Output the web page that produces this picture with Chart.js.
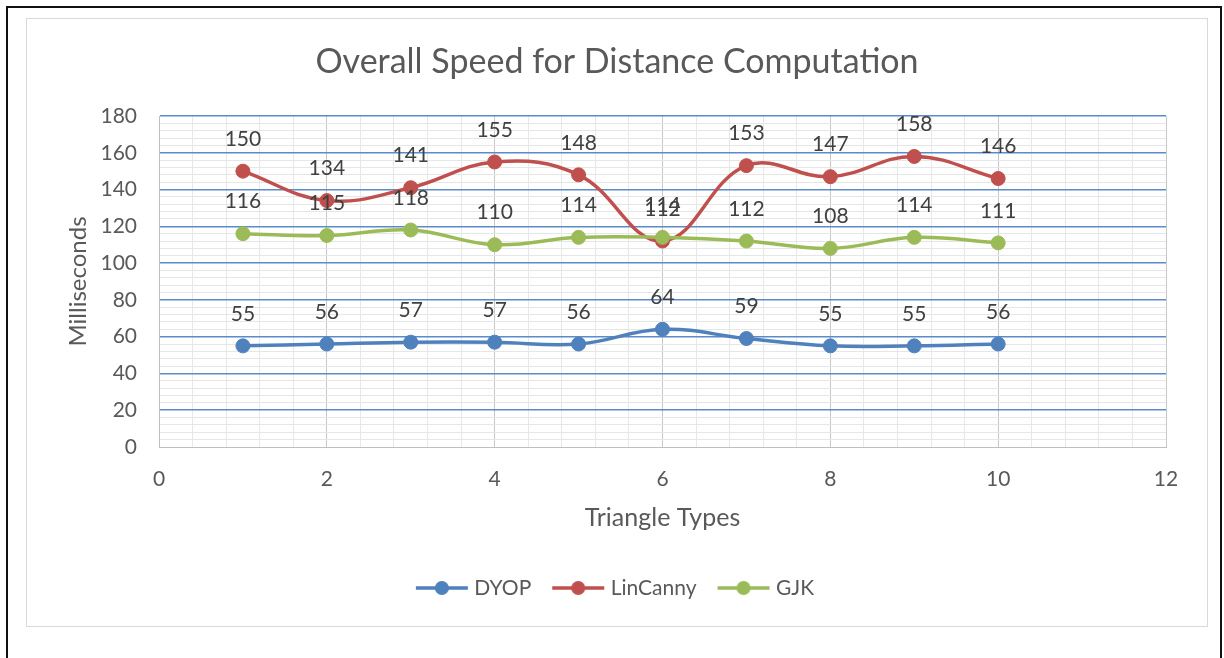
<!DOCTYPE html>
<html>
<head>
<meta charset="utf-8">
<script src="https://cdn.jsdelivr.net/npm/chart.js@4"></script>
<style>
  html, body { margin: 0; padding: 0; background: #fff; }
  #outer { position: absolute; left: 6px; top: 6px; width: 1212px; height: 700px;
           border: 2px solid #111; border-bottom: none; }
  #inner { position: absolute; left: 26px; top: 18px; width: 1180px; height: 607px;
           border: 1px solid #d9d9d9; }
  #wrap { position: absolute; left: 0; top: 0; width: 1224px; height: 658px; }
</style>
</head>
<body>
<div id="outer"></div>
<div id="inner"></div>
<div id="wrap"><canvas id="chart"></canvas></div>
<script>
// values
const triangleTypes = [1, 2, 3, 4, 5, 6, 7, 8, 9, 10];
const dyop = [55, 56, 57, 57, 56, 64, 59, 55, 55, 56];
const linCanny = [150, 134, 141, 155, 148, 112, 153, 147, 158, 146];
const gjk = [116, 115, 118, 110, 114, 114, 112, 108, 114, 111];

const FONT = 'Lato, "Open Sans", sans-serif';

function toPoints(vals) {
    return triangleTypes.map((x, i) => ({x: x, y: vals[i]}));
}

function isMultiple(v, step) {
    const r = v / step;
    return Math.abs(r - Math.round(r)) < 1e-6;
}

// little "line with dot" icon for the legend
function legendIcon(color) {
    const c = document.createElement('canvas');
    c.width = 54; c.height = 16;
    const g = c.getContext('2d');
    g.strokeStyle = color;
    g.lineWidth = 3.5;
    g.beginPath(); g.moveTo(1, 8); g.lineTo(53, 8); g.stroke();
    g.fillStyle = color;
    g.beginPath(); g.arc(27, 8, 7, 0, Math.PI * 2); g.fill();
    return c;
}

// write the value above each point
const valueLabels = {
    id: 'valueLabels',
    afterDatasetsDraw(chart) {
        const ctx = chart.ctx;
        ctx.save();
        ctx.font = '21px ' + FONT;
        ctx.fillStyle = '#404040';
        ctx.textAlign = 'center';
        ctx.textBaseline = 'middle';
        chart.data.datasets.forEach((ds, i) => {
            chart.getDatasetMeta(i).data.forEach((pt, j) => {
                ctx.fillText(ds.data[j].y, pt.x, pt.y - 32);
            });
        });
        ctx.restore();
    }
};

const colors = ['#4F81BD', '#C0504D', '#9BBB59'];

new Chart(document.getElementById('chart').getContext('2d'), {
    type: 'line',
    data: {
        datasets: [
            {label: 'DYOP', data: toPoints(dyop), order: 2},
            {label: 'LinCanny', data: toPoints(linCanny), order: 1},
            {label: 'GJK', data: toPoints(gjk), order: 0}
        ].map((d, i) => Object.assign(d, {
            borderColor: colors[i],
            backgroundColor: colors[i],
            pointBackgroundColor: colors[i],
            pointBorderColor: colors[i],
            pointRadius: 7,
            pointBorderWidth: 1,
            borderWidth: 3.5,
            tension: 0.4,
            fill: false
        }))
    },
    options: {
        responsive: true,
        maintainAspectRatio: false,
        animation: false,
        layout: {padding: {top: 0, left: 68, right: 58, bottom: 49.5}},
        plugins: {
            tooltip: {enabled: false},
            title: {
                display: true,
                text: 'Overall Speed for Distance Computation',
                color: '#595959',
                font: {family: FONT, size: 34, weight: 'normal'},
                padding: {top: 41.6, bottom: 33.6}
            },
            legend: {
                position: 'bottom',
                labels: {
                    usePointStyle: true,
                    pointStyleWidth: 44,
                    padding: 25,
                    color: '#595959',
                    font: {family: FONT, size: 21},
                    generateLabels(chart) {
                        const items = Chart.defaults.plugins.legend.labels.generateLabels(chart);
                        items.sort((a, b) => a.datasetIndex - b.datasetIndex);
                        items.forEach(it => { it.pointStyle = legendIcon(colors[it.datasetIndex]); });
                        return items;
                    }
                }
            }
        },
        scales: {
            x: {
                type: 'linear',
                min: 0,
                max: 12,
                afterFit(scale) { scale.height = 105.5; },
                border: {display: true, color: '#bfbfbf', width: 1},
                grid: {
                    drawTicks: false,
                    color: c => isMultiple(c.tick.value, 2) ? '#c8c8c8' : '#e8e8e8',
                    lineWidth: 1
                },
                ticks: {
                    stepSize: 0.4,
                    autoSkip: false,
                    maxRotation: 0,
                    padding: 19.4,
                    color: '#595959',
                    font: {family: FONT, size: 21},
                    callback: v => isMultiple(v, 2) ? Math.round(v) : ''
                },
                title: {
                    display: true,
                    text: 'Triangle Types',
                    color: '#595959',
                    font: {family: FONT, size: 25},
                    padding: {top: 10, bottom: 19.5}
                }
            },
            y: {
                min: 0,
                max: 180,
                afterFit(scale) { scale.width = 91; },
                border: {display: true, color: '#bfbfbf', width: 1},
                grid: {
                    drawTicks: false,
                    color: c => (c.tick.value !== 0 && isMultiple(c.tick.value, 20)) ? '#5B8BC9' : '#e6e6e6',
                    lineWidth: c => (c.tick.value !== 0 && isMultiple(c.tick.value, 20)) ? 1.6 : 1
                },
                ticks: {
                    stepSize: 4,
                    autoSkip: false,
                    padding: 22,
                    color: '#595959',
                    font: {family: FONT, size: 21},
                    callback: v => isMultiple(v, 20) ? v : ''
                },
                title: {
                    display: true,
                    text: 'Milliseconds',
                    color: '#595959',
                    font: {family: FONT, size: 24},
                    padding: {top: -4.4, bottom: 5}
                }
            }
        }
    },
    plugins: [valueLabels]
});
</script>
</body>
</html>
